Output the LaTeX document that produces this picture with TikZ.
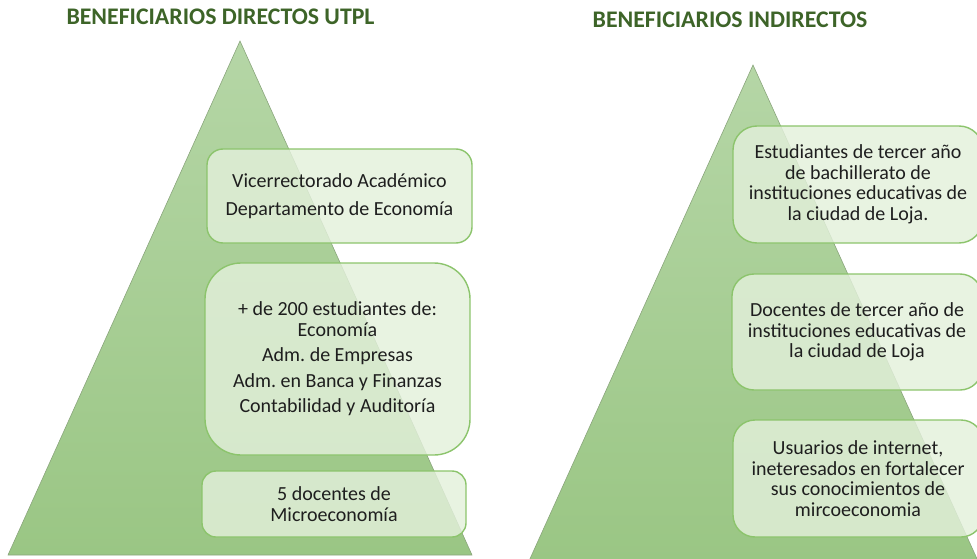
\documentclass[tikz,border=0pt]{standalone}
\usepackage{fontspec}
\setmainfont{Carlito}
\usetikzlibrary{shapes.misc}
\frenchspacing
\definecolor{titlegreen}{HTML}{3D6428}
\definecolor{tritop}{HTML}{B5D6A6}
\definecolor{tribot}{HTML}{9AC684}
\definecolor{triedge}{HTML}{8AA57C}
\definecolor{boxfill}{HTML}{E3F0DB}
\definecolor{boxedge}{HTML}{8CC46C}
\definecolor{txt}{HTML}{1E1E1E}
\tikzset{
  title/.style={font=\fontsize{23.8}{26}\selectfont\bfseries, text=titlegreen, inner sep=0pt},
  tri/.style={top color=tritop, bottom color=tribot, draw=triedge, line width=0.6pt},
  bbox/.style={draw=boxedge, line width=1.4pt, fill=boxfill, fill opacity=0.82, text opacity=1,
    text=txt, align=center, font=\fontsize{20}{20.5}\selectfont\frenchspacing, inner sep=0pt}
}
\begin{document}
\begin{tikzpicture}[x=1pt,y=-1pt]
\useasboundingbox (0,0) rectangle (977,559);
\clip (0,0) rectangle (977,559);
% titles
\node[title] (t1) at (220.5,16.5) {BENEFICIARIOS DIRECTOS UTPL};
\node[title] (t2) at (730,20) {BENEFICIARIOS INDIRECTOS};
% pyramids
\shade[tri] (240,41) -- (472,555) -- (8,555) -- cycle;
\shade[tri] (753,65) -- (978,561) -- (529,561) -- cycle;
% left boxes
\node[bbox, rounded corners=16pt, minimum width=265pt, minimum height=94pt] (l1) at (339.5,196)
  {Vicerrectorado Académico\\[7pt]Departamento de Economía};
\node[bbox, rounded corners=36pt, minimum width=265pt, minimum height=192pt] (l2) at (337.5,359)
  {+ de 200 estudiantes de:\\Economía\\[5pt]Adm. de Empresas\\[5pt]Adm. en Banca y Finanzas\\[5pt]Contabilidad y Auditoría};
\node[bbox, rounded corners=14pt, minimum width=264pt, minimum height=66pt] (l3) at (334,504)
  {5 docentes de\\Microeconomía};
% right boxes
\node[bbox, rounded corners=24pt, minimum width=250pt, minimum height=117pt] (r1) at (858,184.5)
  {Estudiantes de tercer año\\de bachillerato de\\instituciones educativas de\\la ciudad de Loja.};
\node[bbox, rounded corners=22pt, minimum width=250pt, minimum height=116pt] (r2) at (857,332)
  {Docentes de tercer año de\\instituciones educativas de\\la ciudad de Loja};
\node[bbox, rounded corners=22pt, minimum width=250pt, minimum height=117pt] (r3) at (858,478.5)
  {Usuarios de internet,\\ineteresados en fortalecer\\sus conocimientos de\\mircoeconomia};
\end{tikzpicture}
\end{document}
